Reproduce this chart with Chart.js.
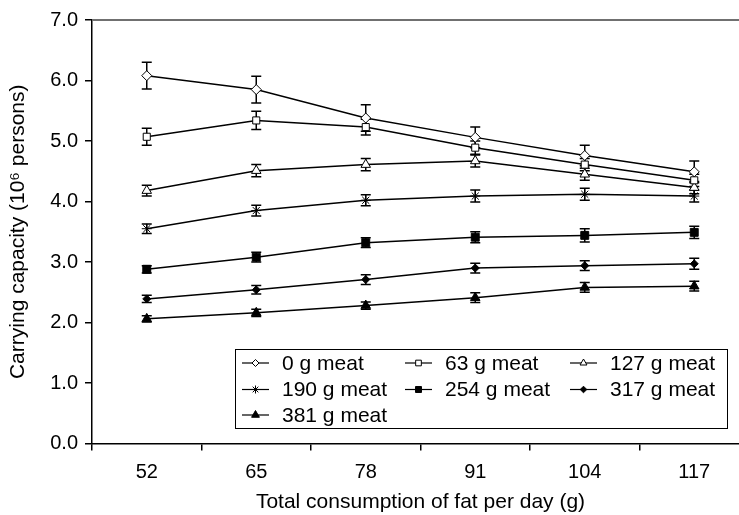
<!DOCTYPE html>
<html>
<head>
<meta charset="utf-8">
<script src="https://cdn.jsdelivr.net/npm/chart.js@4.4.1/dist/chart.umd.min.js"></script>
<style>
  html, body { margin: 0; padding: 0; background: #fff; }
  #wrap { width: 739px; height: 515px; overflow: hidden; }
</style>
</head>
<body>
<div id="wrap"><canvas id="plot" width="760" height="515"></canvas></div>
<script>
// categorias del eje x (g de grasa por dia)
const fatLabels = ['52', '65', '78', '91', '104', '117'];
const yTicks = [0, 1, 2, 3, 4, 5, 6, 7];

// valores (10^6 personas)
const meat0   = [6.08, 5.85, 5.38, 5.06, 4.76, 4.49];
const meat63  = [5.07, 5.34, 5.23, 4.89, 4.61, 4.35];
const meat127 = [4.18, 4.51, 4.61, 4.67, 4.45, 4.23];
const meat190 = [3.55, 3.85, 4.02, 4.09, 4.12, 4.09];
const meat254 = [2.88, 3.08, 3.32, 3.41, 3.44, 3.49];
const meat317 = [2.39, 2.54, 2.71, 2.90, 2.94, 2.97];
const meat381 = [2.06, 2.16, 2.28, 2.41, 2.58, 2.60];

// errores (+/-)
const err0   = [0.22, 0.22, 0.22, 0.17, 0.17, 0.18];
const err63  = [0.14, 0.15, 0.13, 0.11, 0.10, 0.10];
const err127 = [0.09, 0.10, 0.10, 0.10, 0.10, 0.10];
const err190 = [0.08, 0.09, 0.09, 0.10, 0.10, 0.10];
const err254 = [0.06, 0.08, 0.08, 0.09, 0.11, 0.10];
const err317 = [0.06, 0.07, 0.08, 0.08, 0.08, 0.09];
const err381 = [0.05, 0.06, 0.06, 0.08, 0.08, 0.08];

const seriesNames = ['0 g meat', '63 g meat', '127 g meat', '190 g meat', '254 g meat', '317 g meat', '381 g meat'];

let FONT = "'Liberation Sans', Arial, sans-serif";

let makeSet = (label, data, errs, style, radius, fill, legendRadius) => ({
  label: label,
  data: data,
  errs: errs,
  legendRadius: legendRadius,
  borderColor: '#000',
  borderWidth: 1.5,
  pointStyle: style,
  pointRadius: radius,
  pointHoverRadius: radius,
  pointBorderWidth: 1,
  pointBorderColor: '#000',
  pointBackgroundColor: fill,
  tension: 0
});

//Barras de error
let errorBars = {
  id: 'errorBars',
  beforeDatasetsDraw(chart) {
    let ctx = chart.ctx;
    let yScale = chart.scales.y;
    ctx.save();
    ctx.strokeStyle = '#000';
    ctx.lineWidth = 1.5;
    chart.data.datasets.forEach((ds, i) => {
      let meta = chart.getDatasetMeta(i);
      meta.data.forEach((pt, j) => {
        let top = yScale.getPixelForValue(ds.data[j] + ds.errs[j]);
        let bot = yScale.getPixelForValue(ds.data[j] - ds.errs[j]);
        ctx.beginPath();
        ctx.moveTo(pt.x, top); ctx.lineTo(pt.x, bot);
        ctx.moveTo(pt.x - 5, top); ctx.lineTo(pt.x + 5, top);
        ctx.moveTo(pt.x - 5, bot); ctx.lineTo(pt.x + 5, bot);
        ctx.stroke();
      });
    });
    ctx.restore();
  }
};

//Leyenda dentro de un recuadro y linea gris superior
let boxLegend = {
  id: 'boxLegend',
  afterDraw(chart) {
    let ctx = chart.ctx;
    let area = chart.chartArea;
    ctx.save();
    ctx.strokeStyle = '#707070';
    ctx.lineWidth = 2;
    ctx.beginPath();
    ctx.moveTo(area.left, area.top);
    ctx.lineTo(chart.width, area.top);
    ctx.stroke();

    ctx.fillStyle = '#fff';
    ctx.fillRect(235.5, 349.5, 492, 79);
    ctx.strokeStyle = '#000';
    ctx.lineWidth = 1;
    ctx.strokeRect(235.5, 349.5, 492, 79);

    let colX = [242, 405, 570];
    let rowY = [363, 389.5, 415];
    ctx.font = '21px ' + FONT;
    ctx.textBaseline = 'middle';
    chart.data.datasets.forEach((ds, i) => {
      let x0 = colX[i % 3];
      let y0 = rowY[Math.floor(i / 3)];
      ctx.strokeStyle = '#000';
      ctx.lineWidth = 1.2;
      ctx.beginPath();
      ctx.moveTo(x0, y0); ctx.lineTo(x0 + 27, y0);
      ctx.stroke();
      ctx.fillStyle = ds.pointBackgroundColor;
      ctx.strokeStyle = '#000';
      ctx.lineWidth = 1;
      Chart.helpers.drawPoint(ctx, {pointStyle: ds.pointStyle, radius: ds.legendRadius, borderWidth: 1, rotation: 0}, x0 + 13.5, y0);
      ctx.fillStyle = '#000';
      ctx.fillText(ds.label, x0 + 40, y0 + 1);
    });
    ctx.restore();
  }
};

let config = {
  type: 'line',
  data: {
    labels: fatLabels,
    datasets: [
      makeSet(seriesNames[0], meat0, err0, 'rectRot', 5, '#fff', 3.5),
      makeSet(seriesNames[1], meat63, err63, 'rect', 5, '#fff', 4),
      makeSet(seriesNames[2], meat127, err127, 'triangle', 5.5, '#fff', 4),
      makeSet(seriesNames[3], meat190, err190, 'star', 5, '#fff', 4),
      makeSet(seriesNames[4], meat254, err254, 'rect', 5.6, '#000', 4.2),
      makeSet(seriesNames[5], meat317, err317, 'rectRot', 4, '#000', 3.3),
      makeSet(seriesNames[6], meat381, err381, 'triangle', 5.5, '#000', 4.5)
    ]
  },
  options: {
    responsive: false,
    animation: false,
    layout: { padding: { top: 20, right: 11, left: 0, bottom: 0 } },
    plugins: { legend: { display: false }, tooltip: { enabled: false } },
    scales: {
      x: {
        type: 'category',
        offset: true,
        afterFit: s => { s.height = 71.5; },
        grid: { offset: true, drawOnChartArea: false, drawTicks: true, tickLength: 7, color: '#000', lineWidth: 1.5 },
        border: { color: '#000', width: 1.5 },
        ticks: { color: '#000', font: { family: FONT, size: 20 }, padding: 10, maxRotation: 0 },
        title: { display: true, text: 'Total consumption of fat per day (g)', color: '#000', font: { family: FONT, size: 21 }, padding: { top: 0, bottom: 0 } }
      },
      y: {
        min: 0,
        max: 7,
        afterFit: s => { s.width = 92; },
        afterBuildTicks: s => { s.ticks = yTicks.map(v => ({ value: v })); },
        grid: { drawOnChartArea: false, drawTicks: true, tickLength: 7, color: '#000', lineWidth: 1.5 },
        border: { color: '#000', width: 1.5 },
        ticks: { color: '#000', font: { family: FONT, size: 20 }, padding: 7, callback: v => v.toFixed(1) },
        title: { display: true, text: 'Carrying capacity (10⁶ persons)', color: '#000', font: { family: FONT, size: 21 }, padding: { top: 6, bottom: 4 } }
      }
    }
  },
  plugins: [errorBars, boxLegend]
};

let chart1 = new Chart(document.getElementById('plot'), config);
</script>
</body>
</html>
